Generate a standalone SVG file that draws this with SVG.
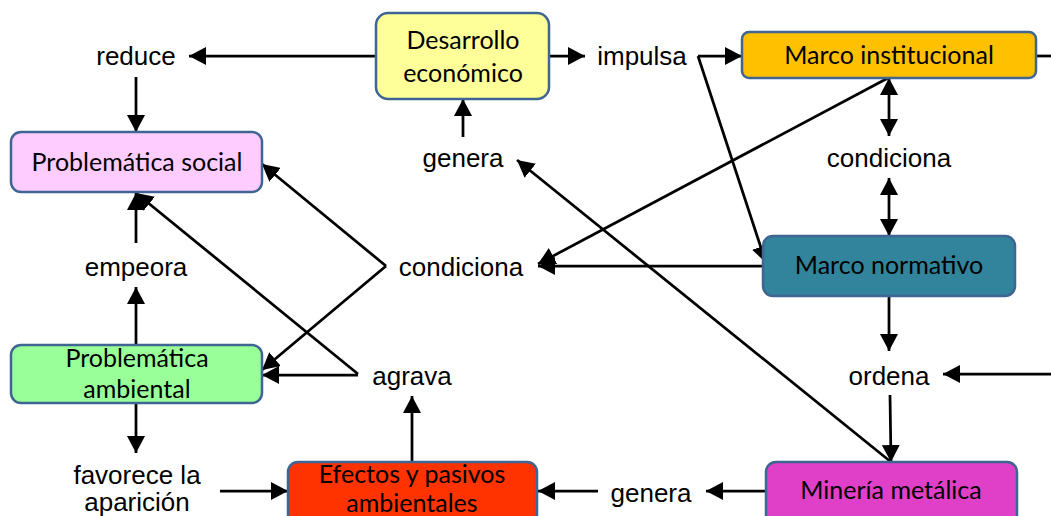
<svg xmlns="http://www.w3.org/2000/svg" width="1051" height="516" viewBox="0 0 1051 516">
<defs>
<marker id="ah" markerUnits="userSpaceOnUse" markerWidth="18" markerHeight="18" refX="17" refY="9" orient="auto-start-reverse" viewBox="0 0 18 18">
<path d="M0,0 L17,9 L0,18 z" fill="#000"/>
</marker>
<style>
.node rect{stroke:#3f6592;stroke-width:2.5}
.nt{font-family:Lato,"Liberation Sans",sans-serif;font-size:25px;fill:#000;text-anchor:middle}
.lbl{font-family:"Liberation Sans",Arial,sans-serif;font-size:26px;fill:#000;text-anchor:middle}
.c path,.c line{stroke:#000;stroke-width:2.75;fill:none}
.a{marker-end:url(#ah)}
.d{marker-start:url(#ah);marker-end:url(#ah)}
</style>
</defs>
<rect width="1051" height="516" fill="#fff"/>
<g class="c" id="connectors">
<line class="a" x1="376" y1="56" x2="189" y2="56"/>
<line class="a" x1="136" y1="77" x2="136" y2="132"/>
<line class="a" x1="550" y1="56" x2="585" y2="56"/>
<line class="a" x1="698" y1="56" x2="742" y2="56"/>
<line class="a" x1="698" y1="56" x2="766" y2="263"/>
<line x1="1036" y1="56" x2="1051" y2="56"/>
<line class="d" x1="889" y1="78" x2="889" y2="136"/>
<line class="d" x1="889" y1="178" x2="889" y2="236"/>
<line class="a" x1="888" y1="78" x2="538" y2="264"/>
<line class="a" x1="763" y1="266" x2="538" y2="266"/>
<line class="a" x1="889" y1="296" x2="889" y2="351"/>
<line class="a" x1="1051" y1="374" x2="943" y2="374"/>
<line class="a" x1="890" y1="395" x2="891" y2="462"/>
<line class="a" x1="891" y1="462" x2="517" y2="160"/>
<line class="a" x1="463" y1="137" x2="463" y2="99"/>
<line class="a" x1="766" y1="491" x2="706" y2="491"/>
<line class="a" x1="598" y1="491" x2="538" y2="491"/>
<line class="a" x1="412" y1="462" x2="412" y2="396"/>
<line class="a" x1="358" y1="374" x2="136" y2="193"/>
<line class="a" x1="358" y1="375" x2="262" y2="375"/>
<line class="a" x1="386" y1="266" x2="262" y2="164"/>
<line class="a" x1="386" y1="266" x2="262" y2="370"/>
<line class="a" x1="136" y1="345" x2="136" y2="287"/>
<line class="a" x1="136" y1="243" x2="136" y2="193"/>
<line class="a" x1="136" y1="403" x2="136" y2="453"/>
<line class="a" x1="220" y1="491" x2="288" y2="491"/>
</g>
<g class="node" id="desarrollo">
<rect x="376" y="13" width="173" height="86" rx="12" fill="#ffff99"/>
<text class="nt" x="463" y="49">Desarrollo</text>
<text class="nt" x="463" y="82">económico</text>
</g>
<g class="node" id="prob-social">
<rect x="11" y="132" width="251" height="60" rx="10" fill="#ffccff"/>
<text class="nt" x="137" y="171">Problemática social</text>
</g>
<g class="node" id="prob-ambiental">
<rect x="11" y="345" width="251" height="58" rx="10" fill="#99ff99"/>
<text class="nt" x="137" y="367">Problemática</text>
<text class="nt" x="137" y="398">ambiental</text>
</g>
<g class="node" id="marco-inst">
<rect x="742" y="32" width="294" height="46" rx="7" fill="#ffc000"/>
<text class="nt" x="889" y="64">Marco institucional</text>
</g>
<g class="node" id="marco-norm">
<rect x="763" y="236" width="252" height="60" rx="10" fill="#31849b"/>
<text class="nt" x="889" y="274">Marco normativo</text>
</g>
<g class="node" id="mineria">
<rect x="766" y="462" width="251" height="70" rx="10" fill="#e040c8"/>
<text class="nt" x="891" y="499">Minería metálica</text>
</g>
<g class="node" id="efectos">
<rect x="288" y="462" width="249" height="70" rx="10" fill="#ff3300"/>
<text class="nt" x="412" y="483">Efectos y pasivos</text>
<text class="nt" x="412" y="512">ambientales</text>
</g>
<g id="labels">
<text class="lbl" x="136" y="65">reduce</text>
<text class="lbl" x="642" y="65">impulsa</text>
<text class="lbl" x="463" y="167">genera</text>
<text class="lbl" x="889" y="167">condiciona</text>
<text class="lbl" x="461" y="276">condiciona</text>
<text class="lbl" x="136" y="276">empeora</text>
<text class="lbl" x="412" y="385">agrava</text>
<text class="lbl" x="889" y="385">ordena</text>
<text class="lbl" x="137" y="484">favorece la</text>
<text class="lbl" x="137" y="511">aparición</text>
<text class="lbl" x="651" y="502">genera</text>
</g>
</svg>
